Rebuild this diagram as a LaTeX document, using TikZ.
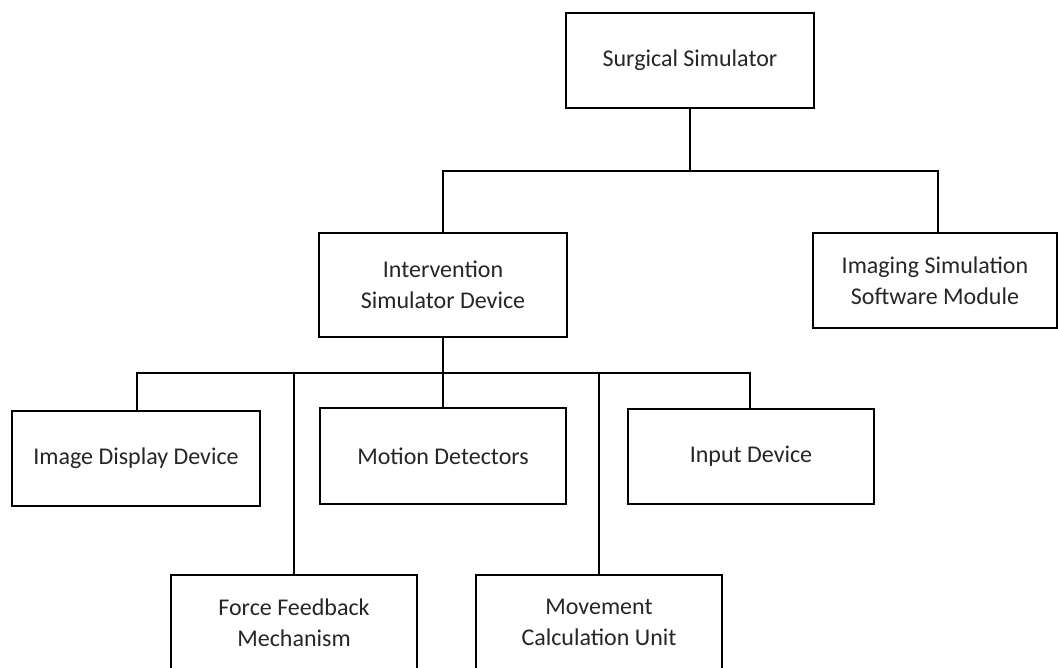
\documentclass[tikz,border=0pt]{standalone}
\usepackage{fontspec}
\setmainfont{Carlito}
\begin{document}
\begin{tikzpicture}[x=1pt,y=-1pt,
  box/.style={draw=black, line width=2pt, fill=white, anchor=north west,
    inner sep=0pt, outer sep=0pt, align=center, minimum width=#1,
    font=\fontsize{24}{31}\selectfont, text=black!85},
  box/.default=246pt,
  link/.style={draw=black, line width=2pt}]
\useasboundingbox[fill=white] (0,0) rectangle (1058,667);

% top level
\node[box=248pt, minimum height=95pt] (surg) at (566,13) {Surgical Simulator};

% second level
\node[box=248pt, minimum height=104pt] (interv) at (319,233)
  {Intervention\\Simulator Device};
\node[box=244pt, minimum height=95pt] (imaging) at (813,233)
  {Imaging Simulation\\Software Module};

% third level
\node[box=248pt, minimum height=95pt] (imgdisp) at (12,411) {Image Display Device};
\node[box, minimum height=96pt] (motion) at (320,408) {Motion Detectors};
\node[box, minimum height=95pt] (input) at (628,409) {Input Device};
\node[box, minimum height=95pt] (force) at (171,575) {Force Feedback\\Mechanism};
\node[box, minimum height=95pt] (movement) at (476,575) {Movement\\Calculation Unit};

% junctions on the horizontal bars
\coordinate (j1) at (surg.south |- 0,171);
\coordinate (j2) at (interv.south |- 0,373);

% connectors from the simulator
\draw[link, line width=2.4pt] (surg.south) -- (j1);
\draw[link] (j1) -| (interv.north);
\draw[link] (j1) -| ([xshift=3pt]imaging.north);

% connectors from the intervention device
\draw[link, line width=2.4pt] (interv.south) -- (j2);
\draw[link] (j2) -| ([xshift=1pt]imgdisp.north);
\draw[link] (j2) -| (force.north);
\draw[link] (j2) -- (motion.north);
\draw[link] (j2) -| (movement.north);
\draw[link] (j2) -| ([xshift=-1pt]input.north);
\end{tikzpicture}
\end{document}
